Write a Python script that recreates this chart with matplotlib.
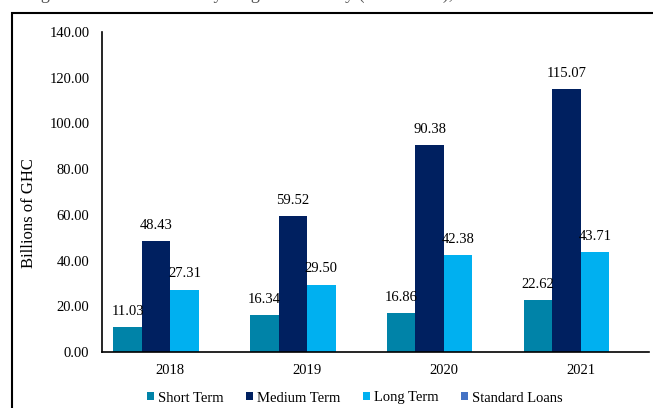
import numpy as np
import matplotlib.pyplot as plt
from matplotlib.patches import Rectangle

years = ['2018', '2019', '2020', '2021']
series_names = ['Short Term', 'Medium Term', 'Long Term', 'Standard Loans']
short_term = [11.03, 16.34, 16.86, 22.62]
medium_term = [48.43, 59.52, 90.38, 115.07]
long_term = [27.31, 29.50, 42.38, 43.71]
standard_loans = [0, 0, 0, 0]
colors = ['#0083A8', '#002060', '#00B0F0', '#4472C4']

plt.rcParams['font.family'] = ['Liberation Serif', 'DejaVu Serif']

W, H = 653, 408
fig = plt.figure(figsize=(W / 100, H / 100), dpi=100)
ax = fig.add_axes([102 / W, 1 - 352 / H, 547 / W, 320 / H])

# frame around the chart, cut off on the right and bottom
fig.patches.append(Rectangle((12 / W, -0.1), 1.2, 1 - 13 / H + 0.1,
                             transform=fig.transFigure, fill=False,
                             edgecolor='black', linewidth=1.5))
# caption above the chart, mostly cut off by the top edge
fig.text(26 / W, 1 + 1 / H, 'Figure 2.3: Credit Stock by Original Maturity (In nominal), 2018 - 2021',
         fontsize=13, va='baseline', ha='left', color='#555555')

x = np.arange(len(years))
width = 0.208
data = [short_term, medium_term, long_term, standard_loans]
for i, (vals, name, col) in enumerate(zip(data, series_names, colors)):
    pos = x + (i - 1.5) * width
    ax.bar(pos, vals, width, color=col, label=name)
    if i < 3:
        for p, v in zip(pos, vals):
            ax.text(p, v + 4, f'{v:.2f}', ha='center', va='bottom', fontsize=10.5)

ax.set_xlim(-0.5, 3.5)
ax.set_ylim(0, 140)
ax.set_yticks(np.arange(0, 141, 20))
ax.set_yticklabels([f'{v:.2f}' for v in np.arange(0, 141, 20)], fontsize=10.5)
ax.set_xticks(x)
ax.set_xticklabels(years, fontsize=10.5)
ax.tick_params(axis='y', length=0, pad=9)
ax.tick_params(axis='x', length=0, pad=9)
for s in ['top', 'right']:
    ax.spines[s].set_visible(False)
ax.spines['left'].set_linewidth(1.2)
ax.spines['bottom'].set_linewidth(1.2)
ax.set_ylabel('Billions of GHC', fontsize=12)
ax.yaxis.set_label_coords(-65 / 547, 0.434)

fig.legend(*ax.get_legend_handles_labels(), loc='center',
           bbox_to_anchor=(355 / W, 1 - 398 / H), ncol=4, frameon=False,
           fontsize=10.5, handlelength=0.45, handleheight=0.45, handletextpad=0.3,
           columnspacing=1.55, borderpad=0)

fig.savefig('out.png', dpi=100)
